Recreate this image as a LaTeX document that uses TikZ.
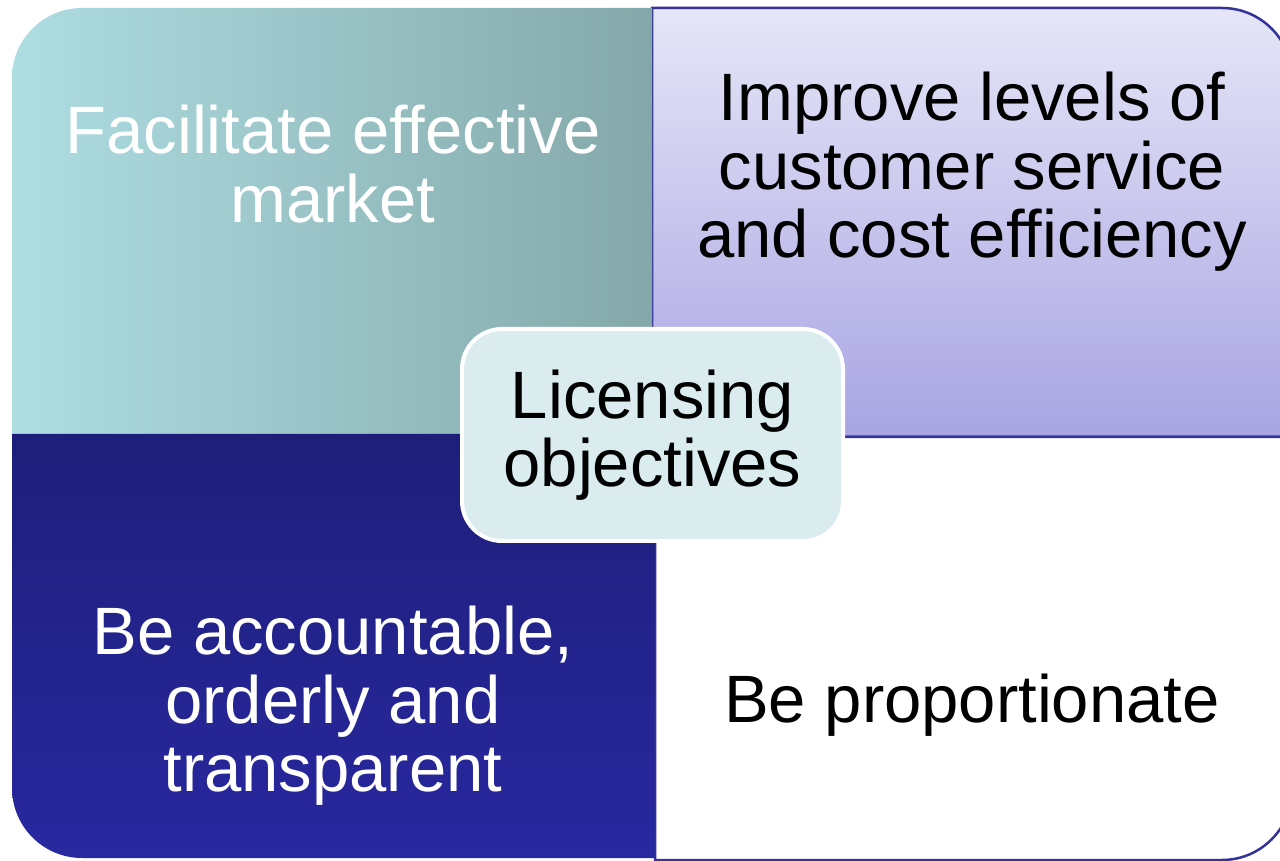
\documentclass[tikz,border=0pt]{standalone}
\usepackage{fontspec}
\setmainfont{Liberation Sans}
\usepackage{tikz}
\definecolor{tealA}{RGB}{174,221,226}
\definecolor{tealB}{RGB}{132,168,170}
\definecolor{lavA}{RGB}{230,230,248}
\definecolor{lavB}{RGB}{168,164,226}
\definecolor{navyA}{RGB}{30,30,122}
\definecolor{navyB}{RGB}{40,40,160}
\definecolor{rim}{RGB}{51,51,155}
\definecolor{core}{RGB}{218,236,238}

\begin{document}
\begin{tikzpicture}[x=1pt,y=1pt,
	rimline/.style={draw=rim,line width=2.5pt},
	objtext/.style={align=center,inner sep=0pt,font=\fontsize{67}{68.5}\selectfont}]
	\useasboundingbox (0,0) rectangle (1280,860);
	\begin{scope}
	\clip (0,0) rectangle (1280,860);
	\path[rimline,top color=lavA,bottom color=lavB]
	(652,852) -- (1222,852) arc[start angle=90,end angle=0,radius=70] -- (1292,423) -- (652,423) -- cycle;
	\path[rimline,fill=white]
	(655,423) -- (1292,423) -- (1292,70) arc[start angle=0,end angle=-90,radius=70] -- (655,0) -- cycle;
	\path[left color=tealA,right color=tealB]
	(652,426) -- (12,426) -- (12,782) arc[start angle=180,end angle=90,radius=70] -- (652,852) -- cycle;
	\path[top color=navyA,bottom color=navyB]
	(12,426) -- (655,426) -- (655,2) -- (82,2) arc[start angle=270,end angle=180,radius=70] -- cycle;
	\end{scope}
	% quadrant texts
	\node (fac)  [objtext,text=white] at (333,696) {Facilitate effective\\market};
	\node (imp)  [objtext] at (972,688) {Improve levels of\\customer service\\and cost efficiency};
	\node (acc)  [objtext,text=white] at (333,154) {Be accountable,\\orderly and\\transparent};
	\node (prop) [objtext] at (972,155) {Be proportionate};
	% centre
	\node (lic) [objtext,draw=white,line width=4pt,fill=core,rounded corners=40pt,
		minimum width=381pt,minimum height=212pt] at (652.5,425) {Licensing\\objectives};
\end{tikzpicture}
\end{document}
